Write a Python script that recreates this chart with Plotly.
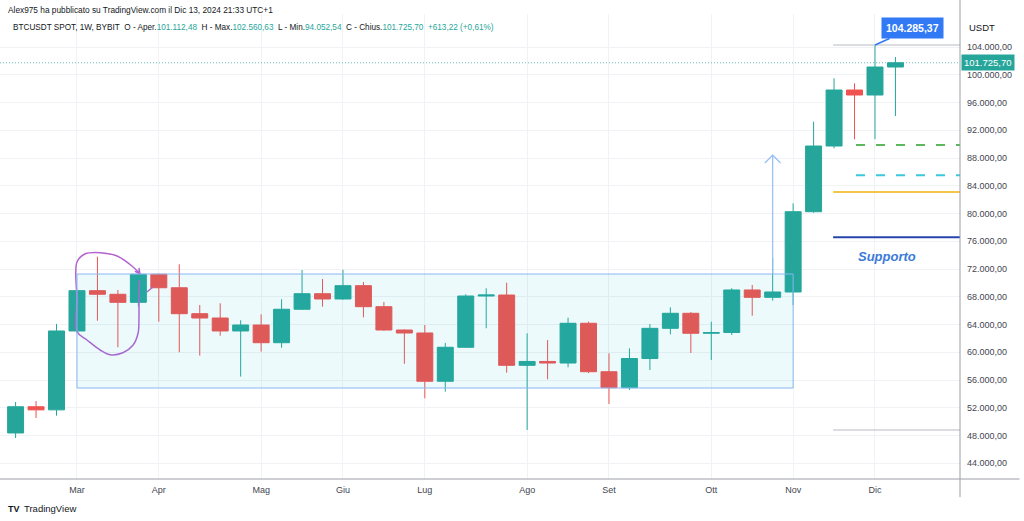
import plotly.graph_objects as go

# ---------------- data ----------------
dates = ["2024-02-12", "2024-02-19", "2024-02-26", "2024-03-04", "2024-03-11", "2024-03-18", "2024-03-25",
         "2024-04-01", "2024-04-08", "2024-04-15", "2024-04-22", "2024-04-29", "2024-05-06", "2024-05-13",
         "2024-05-20", "2024-05-27", "2024-06-03", "2024-06-10", "2024-06-17", "2024-06-24", "2024-07-01",
         "2024-07-08", "2024-07-15", "2024-07-22", "2024-07-29", "2024-08-05", "2024-08-12", "2024-08-19",
         "2024-08-26", "2024-09-02", "2024-09-09", "2024-09-16", "2024-09-23", "2024-09-30", "2024-10-07",
         "2024-10-14", "2024-10-21", "2024-10-28", "2024-11-04", "2024-11-11", "2024-11-18", "2024-11-25",
         "2024-12-02", "2024-12-09"]
opens = [48370, 52150, 51700, 63070, 68880, 68360, 67200, 71240, 69300, 65560, 64940, 63070, 63930, 61380,
         66200, 68440, 67680, 69600, 66570, 63210, 62780, 55820, 60720, 68110, 68250, 58120, 58680, 58450,
         64180, 57200, 54900, 59100, 63450, 65620, 62740, 62850, 68980, 67920, 68690, 80260, 89730, 97800,
         97080, 101112.48]
highs = [52830, 52980, 64080, 69000, 73780, 68980, 71770, 71340, 72680, 66810, 67060, 64620, 65460, 67640,
         71860, 70560, 71900, 70130, 67250, 63300, 63930, 61340, 68360, 69220, 70030, 62730, 61770, 64990,
         64410, 59850, 60570, 64080, 66480, 65800, 64410, 69230, 69700, 73600, 81470, 93230, 99490, 98770,
         104285.37, 102560.63]
lows = [47640, 50530, 50860, 62800, 64550, 60720, 66600, 64410, 60000, 59520, 62390, 56500, 60100, 60660,
        66100, 66570, 67600, 65040, 63100, 58350, 53370, 54320, 60650, 63460, 57060, 48800, 56110, 57840,
        57000, 52550, 54560, 57450, 62590, 59900, 58890, 62490, 65270, 67440, 66800, 80100, 89400, 90700,
        90700, 94052.54]
closes = [52150, 51700, 63070, 68880, 68360, 67200, 71240, 69300, 65560, 64940, 63070, 63930, 61380, 66200,
          68440, 67680, 69600, 66570, 63210, 62780, 55820, 60720, 68110, 68250, 58120, 58680, 58450, 64180,
          57200, 54900, 59100, 63450, 65620, 62740, 62850, 68980, 67920, 68690, 80260, 89730, 97800, 97080,
          101112.48, 101725.70]

month_ticks = ["2024-03-04", "2024-04-01", "2024-05-06", "2024-06-03", "2024-07-01", "2024-08-05",
               "2024-09-02", "2024-10-07", "2024-11-04", "2024-12-02"]
month_labels = ["Mar", "Apr", "Mag", "Giu", "Lug", "Ago", "Set", "Ott", "Nov", "Dic"]
price_ticks = [44000, 48000, 52000, 56000, 60000, 64000, 68000, 72000, 76000, 80000, 84000, 88000,
               92000, 96000, 100000, 104000]

# drawings (price levels / date anchors)
box_dates = ["2024-03-04", "2024-11-04"]
box_prices = [54850, 71280]
proj_date = "2024-10-28"
proj_prices = [71280, 88430]
level_green = 89870
level_cyan = 85510
level_yellow = 83100
level_blue = 76580
level_high = 104285.37
level_low = 48800
lasso_x = ["2024-03-25 13:00", "2024-03-23 05:00", "2024-03-17 17:00", "2024-03-11 22:00", "2024-03-06 17:00",
           "2024-03-04", "2024-03-04", "2024-03-04", "2024-03-07 10:00", "2024-03-11 22:00", "2024-03-15 07:00",
           "2024-03-19 17:00", "2024-03-23 05:00", "2024-03-24 22:00", "2024-03-25 05:00", "2024-03-25 05:00",
           "2024-03-25 10:00"]
lasso_y = [71283, 72290, 73877, 74353, 74165, 73012, 67535, 62968, 61770, 60330, 59653, 59941, 61050, 62780,
           65130, 68544, 70420]

X_RANGE = ["2024-02-06 16:00", "2024-12-31 02:00"]
Y_RANGE = [41736, 108756]

GREEN = "#26a69a"
RED = "#ef5350"
FONT = "Liberation Sans, Arial, sans-serif"


def it_num(v):
    s = f"{abs(v):,.2f}"
    s = s.replace(",", "X").replace(".", ",").replace("X", ".")
    return s


fig = go.Figure()

fig.add_trace(go.Candlestick(
    x=dates, open=opens, high=highs, low=lows, close=closes,
    increasing=dict(line=dict(color=GREEN, width=1), fillcolor=GREEN),
    decreasing=dict(line=dict(color=RED, width=1), fillcolor=RED),
    whiskerwidth=0, hoverinfo="skip", showlegend=False))

# lasso (purple freehand)
fig.add_trace(go.Scatter(x=lasso_x, y=lasso_y, mode="lines",
                         line=dict(color="#b565cf", width=1.5, shape="spline", smoothing=1.0),
                         hoverinfo="skip", showlegend=False))
fig.add_trace(go.Scatter(x=["2024-03-23 19:00", "2024-03-25 13:00", "2024-03-25 05:00"],
                         y=[71700, 71283, 72150], mode="lines",
                         line=dict(color="#b565cf", width=1.5), hoverinfo="skip", showlegend=False))
fig.add_trace(go.Scatter(x=["2024-03-27 22:00", "2024-03-30"], y=[68688, 69410], mode="lines",
                         line=dict(color="#b565cf", width=1.5), hoverinfo="skip", showlegend=False))

# projection arrow
fig.add_trace(go.Scatter(x=[proj_date, proj_date], y=proj_prices, mode="lines",
                         line=dict(color="#92bdf5", width=1.2), hoverinfo="skip", showlegend=False))
fig.add_trace(go.Scatter(x=["2024-10-25 08:00", proj_date, "2024-10-30 16:00"],
                         y=[proj_prices[1] - 1150, proj_prices[1], proj_prices[1] - 1150], mode="lines",
                         line=dict(color="#92bdf5", width=1.2), hoverinfo="skip", showlegend=False))

shapes = []
# box
shapes.append(dict(type="rect", xref="x", yref="y", x0=box_dates[0], x1=box_dates[1],
                   y0=box_prices[0], y1=box_prices[1], fillcolor="rgba(0,188,212,0.07)",
                   line=dict(color="#8ab6f2", width=1), layer="above"))
# levels
shapes.append(dict(type="line", xref="x", yref="y", x0="2024-11-25 12:00", x1=X_RANGE[1],
                   y0=level_green, y1=level_green, line=dict(color="#5cb85c", width=2, dash="9px,11px")))
shapes.append(dict(type="line", xref="x", yref="y", x0="2024-11-25 12:00", x1=X_RANGE[1],
                   y0=level_cyan, y1=level_cyan, line=dict(color="#3cc8dc", width=2, dash="9px,11px")))
shapes.append(dict(type="line", xref="x", yref="y", x0="2024-11-17 16:00", x1=X_RANGE[1],
                   y0=level_yellow, y1=level_yellow, line=dict(color="#f3c548", width=2)))
shapes.append(dict(type="line", xref="x", yref="y", x0="2024-11-17 16:00", x1=X_RANGE[1],
                   y0=level_blue, y1=level_blue, line=dict(color="#2743ad", width=2)))
shapes.append(dict(type="line", xref="x", yref="y", x0="2024-11-17 16:00", x1=X_RANGE[1],
                   y0=level_high, y1=level_high, line=dict(color="#b8bbc3", width=1)))
shapes.append(dict(type="line", xref="x", yref="y", x0="2024-11-17 16:00", x1=X_RANGE[1],
                   y0=level_low, y1=level_low, line=dict(color="#b8bbc3", width=1)))
# current price dotted line
shapes.append(dict(type="line", xref="paper", yref="y", x0=0, x1=1, y0=closes[-1], y1=closes[-1],
                   line=dict(color="rgba(38,166,154,0.7)", width=1, dash="1px,2px")))
# axis frame lines
shapes.append(dict(type="line", xref="paper", yref="paper", x0=1, x1=1, y0=-0.039, y1=1.03,
                   line=dict(color="#9a9ea8", width=1)))
shapes.append(dict(type="line", xref="paper", yref="paper", x0=0, x1=1.062, y0=0, y1=0,
                   line=dict(color="#9a9ea8", width=1)))

chg = closes[-1] - opens[-1]
pct = chg / opens[-1] * 100
val = lambda v: f"<span style='color:{GREEN}'>{v}</span>"
sp = "\u00a0\u00a0"
legend_txt = ("BTCUSDT SPOT, 1W, BYBIT" + sp + "O - Aper." + val(it_num(opens[-1])) + sp +
              "H - Max." + val(it_num(highs[-1])) + sp + "L - Min." + val(it_num(lows[-1])) + sp +
              "C - Chius." + val(it_num(closes[-1])) + sp +
              val(("+" if chg >= 0 else "-") + it_num(chg) + " (" + ("+" if pct >= 0 else "-") +
                  it_num(pct) + "%)"))

annotations = [
    dict(xref="paper", yref="paper", x=0.0065, y=1.0086, xanchor="left", yanchor="middle",
         text="Alex975 ha pubblicato su TradingView.com il Dic 13, 2024 21:33 UTC+1",
         showarrow=False, font=dict(size=8.3, color="#131722", family=FONT)),
    dict(xref="paper", yref="paper", x=0.0115, y=0.970, xanchor="left", yanchor="middle",
         text=legend_txt, showarrow=False, font=dict(size=8.2, color="#131722", family=FONT)),
    dict(xref="paper", yref="paper", x=1.007, y=0.970, xanchor="left", yanchor="middle",
         text="USDT", showarrow=False, font=dict(size=9.5, color="#131722", family=FONT)),
    dict(xref="paper", yref="y", x=1.001, y=closes[-1], xanchor="left", yanchor="middle",
         text=it_num(closes[-1]), showarrow=False, bgcolor=GREEN, borderpad=2,
         font=dict(size=9.5, color="white", family=FONT)),
    dict(xref="x", yref="y", x=dates[-2], y=highs[-2], ax=38, ay=-17, text="<b>" + it_num(highs[-2]) + "</b>",
         showarrow=True, arrowhead=0, arrowwidth=1.5, arrowcolor="#3179f5", bgcolor="#3179f5",
         borderpad=4, font=dict(size=10.5, color="white", family=FONT)),
    dict(xref="x", yref="y", x="2024-12-06", y=73877, text="<b><i>Supporto</i></b>", showarrow=False,
         font=dict(size=13, color="#3a7bd8", family=FONT)),
    dict(xref="paper", yref="paper", x=0.006, y=-0.0645, xanchor="left", yanchor="middle",
         text="<b>TV</b>", showarrow=False, font=dict(size=9, color="#131722", family=FONT)),
    dict(xref="paper", yref="paper", x=0.023, y=-0.0645, xanchor="left", yanchor="middle",
         text="TradingView", showarrow=False, font=dict(size=9.5, color="#131722", family=FONT)),
]

fig.update_layout(
    width=1024, height=521, autosize=False,
    margin=dict(l=0, r=64, t=14, b=42, pad=0),
    paper_bgcolor="white", plot_bgcolor="white",
    separators=",.",
    showlegend=False, hovermode=False,
    boxgap=0.22, boxgroupgap=0,
    font=dict(family=FONT, size=9, color="#434651"),
    shapes=shapes, annotations=annotations,
    xaxis=dict(type="date", range=X_RANGE, tickvals=month_ticks, ticktext=month_labels,
               showgrid=True, gridcolor="#f0f2f6", gridwidth=1, zeroline=False, showline=False,
               ticks="", ticklabelstandoff=4, rangeslider=dict(visible=False),
               tickfont=dict(size=9, color="#434651", family=FONT), fixedrange=True),
    yaxis=dict(side="right", range=Y_RANGE, tickvals=price_ticks, tickformat=",.2f",
               showgrid=True, gridcolor="#f0f2f6", gridwidth=1, zeroline=False, showline=False,
               ticks="", ticklabelstandoff=6, tickfont=dict(size=9, color="#434651", family=FONT),
               fixedrange=True),
)

fig.write_html("out.html", config={"displayModeBar": False, "staticPlot": True},
               post_script="document.body.style.margin='0';")
